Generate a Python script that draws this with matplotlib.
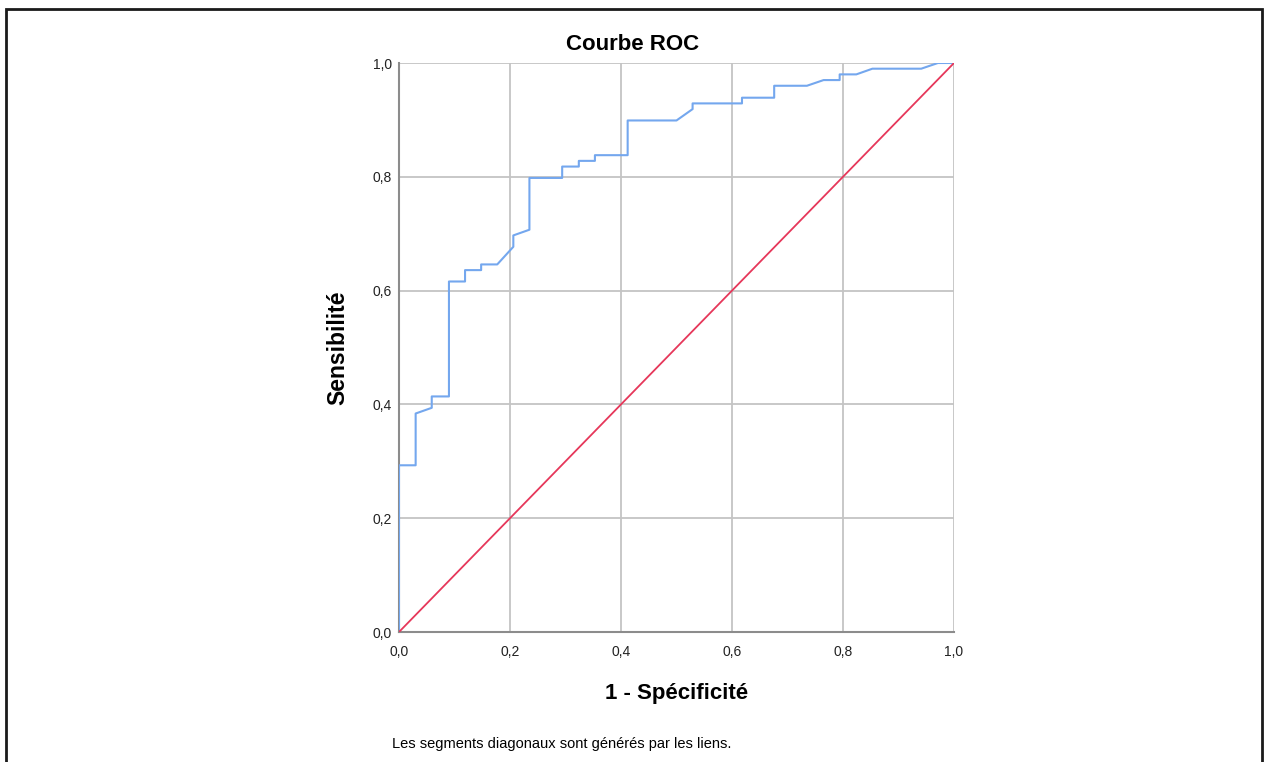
import numpy as np
import matplotlib.pyplot as plt
from matplotlib.patches import Rectangle

plt.rcParams['font.family'] = ['Liberation Sans', 'DejaVu Sans']

# Points de la courbe ROC (1 - spécificité, sensibilité)
fpr = [0.0, 0.0, 0.030, 0.030, 0.059, 0.059, 0.090, 0.090, 0.119, 0.119,
       0.148, 0.148, 0.177, 0.206, 0.206, 0.235, 0.235, 0.294, 0.294, 0.324,
       0.324, 0.353, 0.353, 0.412, 0.412, 0.500, 0.529, 0.529, 0.618, 0.618,
       0.676, 0.676, 0.735, 0.765, 0.794, 0.794, 0.824, 0.853, 0.941, 0.971,
       1.0]
tpr = [0.0, 0.293, 0.293, 0.384, 0.394, 0.414, 0.414, 0.616, 0.616, 0.636,
       0.636, 0.646, 0.646, 0.677, 0.697, 0.707, 0.798, 0.798, 0.818, 0.818,
       0.828, 0.828, 0.838, 0.838, 0.899, 0.899, 0.919, 0.929, 0.929, 0.939,
       0.939, 0.960, 0.960, 0.970, 0.970, 0.980, 0.980, 0.990, 0.990, 1.0,
       1.0]
ref_line = [0.0, 1.0]
ticks = [0.0, 0.2, 0.4, 0.6, 0.8, 1.0]
tick_labels = ['0,0', '0,2', '0,4', '0,6', '0,8', '1,0']

fig = plt.figure(figsize=(12.64, 7.62), dpi=100)
fig.patches.append(Rectangle((6 / 1264, -0.01), 1256 / 1264, 1 - 9 / 762 + 0.01,
                             transform=fig.transFigure, fill=False,
                             edgecolor='#1a1a1a', linewidth=2))

ax = fig.add_axes([399 / 1264, 130 / 762, 555 / 1264, 569 / 762])
ax.plot(fpr, tpr, color='#74a7ee', linewidth=1.5, zorder=3)
ax.plot(ref_line, ref_line, color='#e6375a', linewidth=1.3, zorder=3)

ax.set_xlim(0, 1)
ax.set_ylim(0, 1)
ax.set_xticks(ticks)
ax.set_yticks(ticks)
ax.set_xticklabels(tick_labels)
ax.set_yticklabels(tick_labels)
ax.tick_params(length=0, labelsize=10, colors='#222222')
ax.tick_params(axis='x', pad=9)
ax.tick_params(axis='y', pad=5)
ax.grid(True, color='#c4c4c4', linewidth=1.3)
ax.set_axisbelow(True)
for s in ['top', 'right']:
    ax.spines[s].set_visible(False)
for s in ['left', 'bottom']:
    ax.spines[s].set_color('#8c8c8c')
    ax.spines[s].set_linewidth(1.5)

ax.set_xlabel('1 - Spécificité', fontsize=16, fontweight='bold', va='center')
ax.xaxis.set_label_coords(0.5, (632 - 693) / 569)
ax.set_ylabel('Sensibilité', fontsize=16.5, fontweight='bold', va='center')
ax.yaxis.set_label_coords((338 - 399) / 555, 0.5)

fig.text(633 / 1264, 1 - 45 / 762, 'Courbe ROC', fontsize=16, fontweight='bold',
         ha='center', va='center')
fig.text(562 / 1264, 1 - 744 / 762, 'Les segments diagonaux sont générés par les liens.',
         fontsize=10.5, ha='center', va='center')

fig.savefig('out.png', dpi=100)
